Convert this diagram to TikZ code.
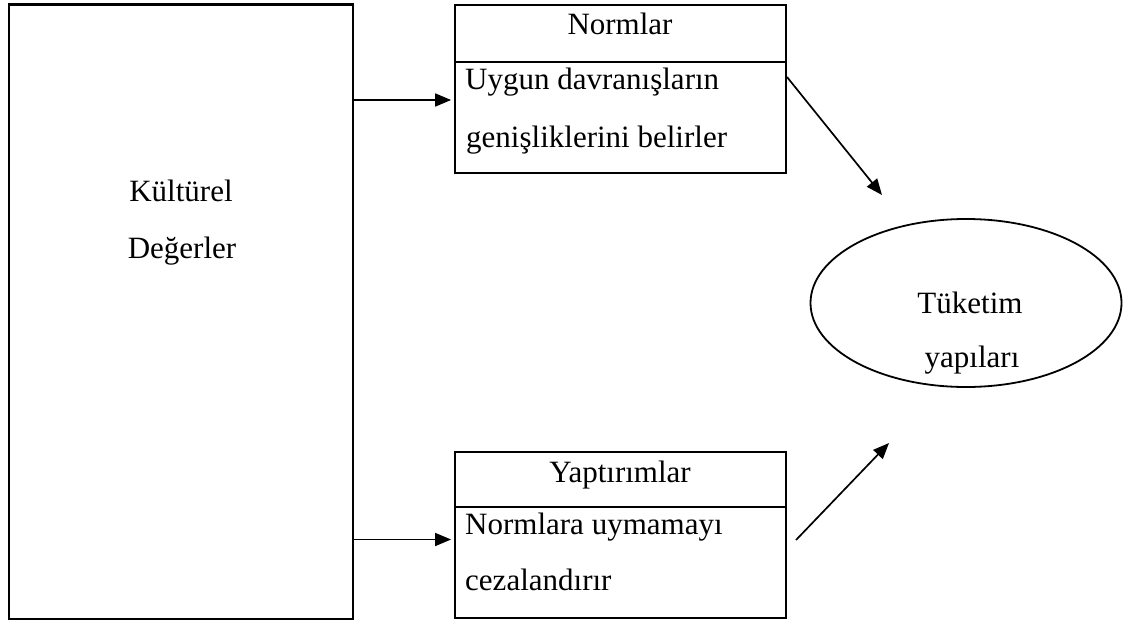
\documentclass[tikz,border=0pt]{standalone}
\usepackage{fontspec}
\setmainfont{Liberation Serif}
\usetikzlibrary{arrows.meta,shapes.geometric}
\begin{document}
\begin{tikzpicture}[x=1pt,y=-1pt,
  every node/.style={font=\fontsize{31}{37}\selectfont},
  txt/.style={inner sep=0pt, anchor=base},
  txtl/.style={inner sep=0pt, anchor=base west},
  bigbox/.style={draw, line width=2.6pt, inner sep=0pt, rectangle},
  tbox/.style={draw, line width=1.8pt, inner sep=0pt, rectangle},
  oval/.style={draw, line width=1.8pt, inner sep=0pt, ellipse},
  conn/.style={line width=1.7pt, -{Triangle[length=16pt,width=13pt]}}
]
\useasboundingbox (0,0) rectangle (1123,623);
% boxes
\node[bigbox, minimum width=344pt, minimum height=614.5pt] (kd) at (181,311.75) {};
\node[tbox, minimum width=331pt, minimum height=168pt] (nb) at (620.5,89) {};
\node[tbox, minimum width=331pt, minimum height=166pt] (yb) at (620.5,535) {};
\node[oval, minimum width=311pt, minimum height=168pt] (tk) at (966,303) {};
% dividers
\coordinate (nd) at (620.5,62);
\coordinate (yd) at (620.5,507);
\draw[line width=1.8pt] (nb.west |- nd) -- (nb.east |- nd);
\draw[line width=1.8pt] (yb.west |- yd) -- (yb.east |- yd);
% texts
\node[txt] (t1) at (181,201) {Kültürel};
\node[txt] (t2) at (182,258) {Değerler};
\node[txt] (t3) at (620,35) {Normlar};
\node[txtl] (t4) at (465,90) {Uygun davranışların};
\node[txtl] (t5) at (466,147) {genişliklerini belirler};
\node[txt] (t6) at (620,482) {Yaptırımlar};
\node[txtl] (t7) at (465,534) {Normlara uymamayı};
\node[txtl] (t8) at (465,590) {cezalandırır};
\node[txt] (t9) at (970,313) {Tüketim};
\node[txt] (t10) at (972,367) {yapıları};
% connectors
\coordinate (a1) at (0,100);
\coordinate (a2) at (0,539.5);
\draw[conn, shorten >=3pt] (kd.east |- a1) -- (nb.west |- a1);
\draw[conn, shorten >=3pt] (kd.east |- a2) -- (yb.west |- a2);
\coordinate (d1s) at (787,77);
\coordinate (d1e) at (882,195);
\coordinate (d2s) at (796,540);
\coordinate (d2e) at (889,443);
\draw[conn] (d1s) -- (d1e);
\draw[conn] (d2s) -- (d2e);
\end{tikzpicture}
\end{document}
